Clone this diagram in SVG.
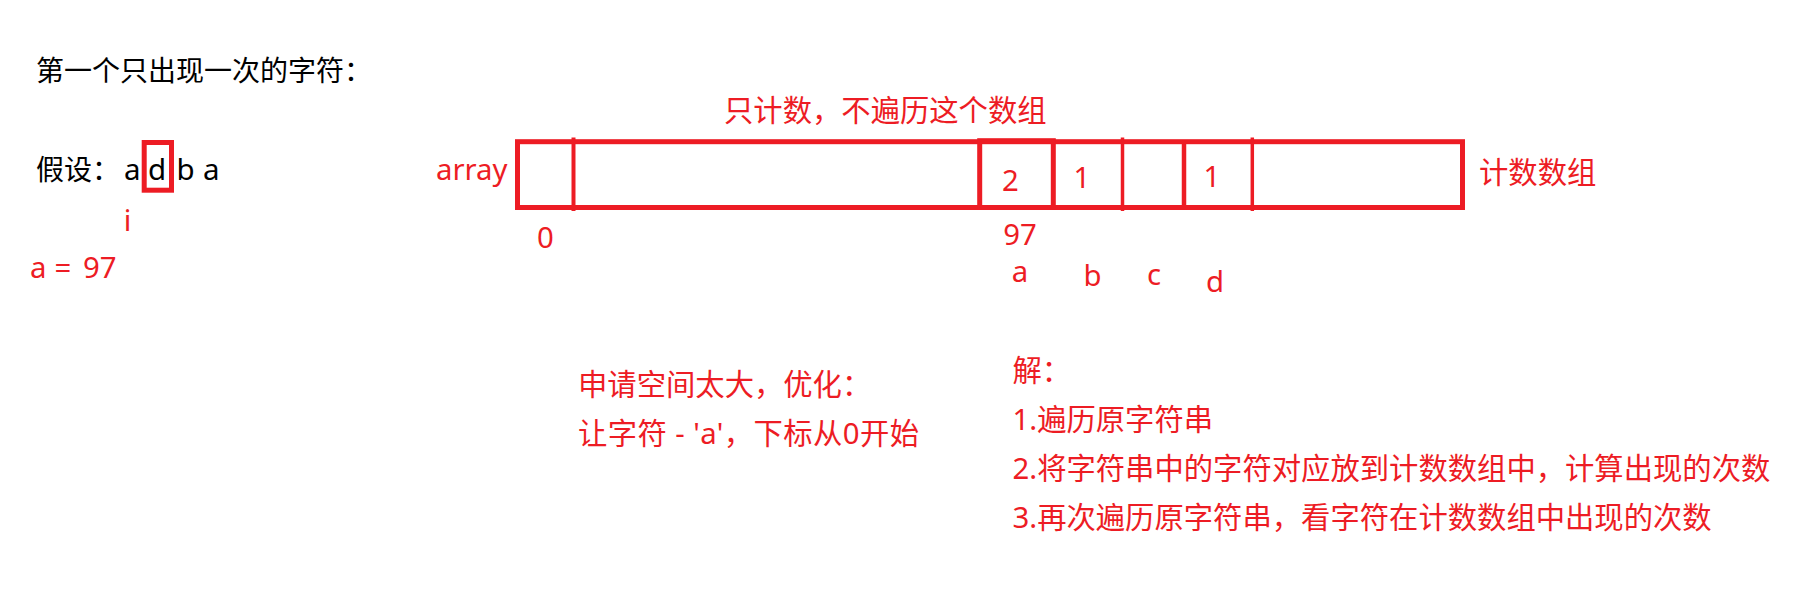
<svg xmlns="http://www.w3.org/2000/svg" width="1798" height="599" viewBox="0 0 1798 599">
<style>
text{font-family:"Noto Sans","Noto Sans CJK SC",sans-serif;}
.blk{fill:#000;font-size:28px;}
.red{fill:#ED1C24;font-size:29.33px;}
.mid{text-anchor:middle;}
.box{fill:none;stroke:#ED1C24;stroke-width:5;}
.div{stroke:#ED1C24;stroke-width:3.5;}
</style>
<rect width="1798" height="599" fill="#fff"/>
<g id="title"><text class="blk" x="36" y="81">第一个只出现一次的字符：</text></g>
<g id="assume">
<text class="blk" x="36" y="180">假设：</text>
<text class="blk" x="124 140 148 166 176.5 194 203" y="180" style="font-size:29.5px">a d b a</text>
<rect class="box" x="144.2" y="142.5" width="27.3" height="47.7"/>
</g>
<g id="index-i"><text class="red mid" x="127.5" y="230.5">i</text></g>
<g id="a-eq"><text class="red" x="30" y="278">a<tspan x="54.5">=</tspan><tspan x="83">97</tspan></text></g>
<g id="header"><text class="red" x="724" y="121">只计数，不遍历这个数组</text></g>
<g id="array-label"><text class="red" x="436" y="180">array</text></g>
<g id="array">
<rect class="box" x="517.5" y="141.7" width="945" height="65.8"/>
<rect class="box" x="979.7" y="140.7" width="73.6" height="66.8"/>
</g>
<g id="connectors">
<line class="div" x1="573.5" y1="137.5" x2="573.5" y2="211" style="stroke-width:4"/>
<line class="div" x1="1122.5" y1="137.5" x2="1122.5" y2="211"/>
<line class="div" x1="1184" y1="140" x2="1184" y2="209.5" style="stroke-width:4.5"/>
<line class="div" x1="1252.3" y1="137.5" x2="1252.3" y2="211"/>
</g>
<g id="cells">
<text class="red mid" x="1010.5" y="191">2</text>
<text class="red mid" x="1082" y="188">1</text>
<text class="red mid" x="1212" y="186.5">1</text>
</g>
<g id="indices">
<text class="red mid" x="545.5" y="248">0</text>
<text class="red mid" x="1020" y="245">97</text>
<text class="red mid" x="1020" y="281.5">a</text>
<text class="red mid" x="1092.5" y="286">b</text>
<text class="red mid" x="1154" y="285">c</text>
<text class="red mid" x="1215" y="292">d</text>
</g>
<g id="count-label"><text class="red" x="1479" y="183">计数数组</text></g>
<g id="optimize">
<text class="red" x="578" y="395">申请空间太大，优化：</text>
<text class="red" x="578" y="444" textLength="341" lengthAdjust="spacing">让字符 - 'a'，下标从0开始</text>
</g>
<g id="solution">
<text class="red" x="1012.5" y="381">解：</text>
<text class="red" x="1012.5" y="430">1.遍历原字符串</text>
<text class="red" x="1012.5" y="479">2.将字符串中的字符对应放到计数数组中，计算出现的次数</text>
<text class="red" x="1012.5" y="528">3.再次遍历原字符串，看字符在计数数组中出现的次数</text>
</g>
</svg>
